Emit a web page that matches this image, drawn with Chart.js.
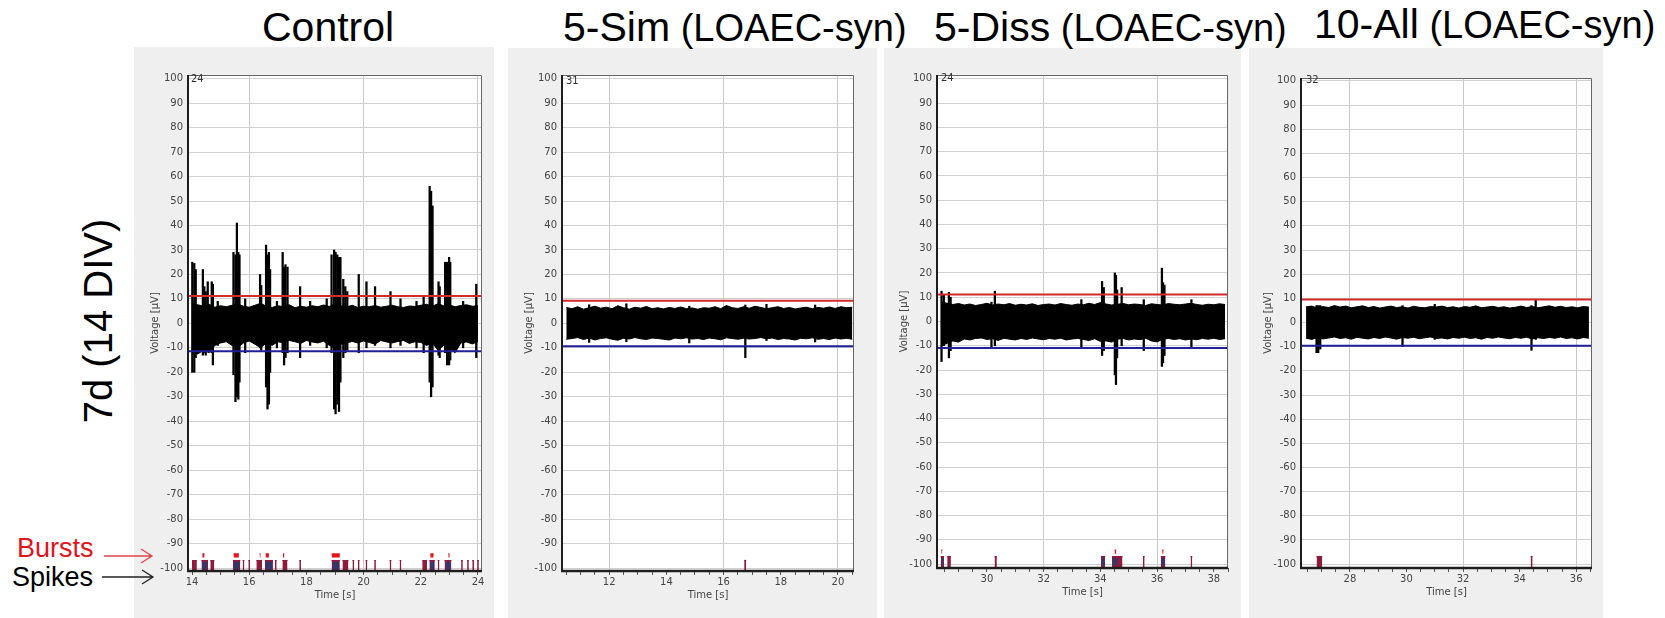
<!DOCTYPE html>
<html><head><meta charset="utf-8">
<script src="https://cdn.jsdelivr.net/npm/chart.js"></script>
<style>
html,body{margin:0;padding:0}
body{width:1665px;height:618px;background:#fff;position:relative;overflow:hidden;font-family:"Liberation Sans",Arial,sans-serif}
.panel{position:absolute;background:#efefef}
canvas{position:absolute}
.title{position:absolute;white-space:nowrap;color:#000;line-height:1}
.chan{position:absolute;font:10px "DejaVu Sans";line-height:12px;color:#333}
.side{position:absolute;white-space:nowrap;line-height:1}
</style></head><body>
<div class="side" id="rowLabel" style="left:98px;top:321px;font-size:40px;transform:translate(-50%,-50%) rotate(-90deg)">7d (14 DIV)</div>
<div class="side" style="left:17px;top:535px;font-size:27px;color:#e3141c">Bursts</div>
<div class="side" style="left:12px;top:564px;font-size:27px;color:#000">Spikes</div>
<svg style="position:absolute;left:0;top:0" width="200" height="618">
  <path d="M104 556 H152 M141 549 L152 556 L141 563" stroke="#e0454a" stroke-width="1.3" fill="none"/>
  <path d="M102 577 H153 M142 570 L153 577 L142 584" stroke="#222" stroke-width="1.3" fill="none"/>
</svg>
<script>
// ---------------- data ----------------
const panelTitles = ["Control", "5-Sim", "5-Diss", "10-All"];
const panelSuffix = ["", "(LOAEC-syn)", "(LOAEC-syn)", "(LOAEC-syn)"];
const channelIds = ["24", "31", "24", "32"];
const yTickLabels = [100, 90, 80, 70, 60, 50, 40, 30, 20, 10, 0, -10, -20, -30, -40, -50, -60, -70, -80, -90, -100];
const xAxisTitle = "Time [s]";
const yAxisTitle = "Voltage [\u00b5V]";
const bandStep = 0.2;

// Control
const ctrlBandStart = 14.0;
const ctrlUpper = [8.0,7.6,7.0,7.8,6.6,7.2,6.8,7.4,7.9,7.0, 6.6,7.4,8.2,7.0,6.5,7.2,6.8,7.6,6.4,7.0, 6.6,7.2,6.8,7.5,6.9,8.0,7.2,6.7,7.4,6.5, 7.0,6.8,7.3,6.6,7.0,7.4,6.8,6.5,7.1,6.9, 7.4,7.8,7.0,8.0,7.2,7.5,6.8,7.3,7.6,7.0, 7.2];
const ctrlLower = [-12.0,-12.5,-11.0,-12.0,-9.0,-8.0,-7.5,-9.0,-10.0,-8.0, -7.2,-8.5,-10.0,-8.0,-9.0,-7.5,-8.0,-7.0,-7.5,-8.2, -7.0,-7.6,-8.0,-7.3,-9.0,-10.0,-8.5,-8.0,-7.4,-8.0, -7.2,-7.8,-8.5,-7.0,-7.6,-8.0,-7.4,-7.0,-8.2,-7.5, -7.8,-9.0,-8.0,-11.0,-9.0,-10.0,-12.0,-8.0,-7.6,-8.4, -7.5];
const ctrlSpikeT = [14.01,14.08,14.13,14.38,14.43,14.48,14.55,14.69,14.73,14.9,15.45,15.52,15.57,15.62,15.66,15.86,16.38,16.42,16.59,16.64,16.69,16.73,16.97,17.17,17.22,17.27,17.34,17.78,18.13,18.71,18.88,18.97,19.02,19.08,19.14,19.19,19.29,19.36,19.43,19.83,20.1,20.4,20.94,21.29,21.85,22.1,22.31,22.36,22.41,22.62,22.66,22.85,22.92,22.99,23.03,23.48,23.94];
const ctrlSpikeHi = [25,24.5,22,22,15,13,17,17,16,9,29,28,41,29,28,10,20,15.5,32,28,29,22,9,29,23,24,23,15,9,10,28,30,29,28,27,27,18,15,13,20,17,15,13,10,9,11,56,54,48,17,15,25,25,27,25,9,16];
const ctrlSpikeLo = [-20,-20,-14,-13,-12,-13,-11,-12,-17,-9,-21,-32,-30,-31,-24,-12,-10,-11,-26,-35,-33,-20,-10,-12,-17,-14,-12,-14,-9,-10,-12,-35,-37,-33,-36,-24,-14,-12,-11,-12,-10,-9,-10,-9,-10,-12,-24,-30,-26,-13,-14,-12,-17,-17,-15,-10,-14];
const ctrlSpikeRaster = [[14.0,14.17],[14.33,14.56],[14.64,14.78],[15.43,15.69],[15.77,15.83],[15.97,16.03],[16.25,16.45],[16.55,16.83],[16.9,16.96],[17.16,17.34],[17.75,17.81],[18.88,19.17],[19.26,19.47],[19.61,19.67],[19.8,19.86],[20.07,20.13],[20.37,20.43],[20.91,20.97],[21.26,21.32],[22.05,22.22],[22.3,22.49],[22.59,22.65],[22.83,23.07],[23.41,23.47],[23.62,23.68],[23.8,23.86],[23.97,24.03]];
const ctrlBurstRaster = [[14.36,14.53],[15.47,15.66],[16.59,16.8],[18.92,19.14],[22.33,22.46],[22.87,23.04]];
const ctrlBurstMarks = [[14.36,14.44],[15.45,15.64],[16.36,16.4],[16.57,16.69],[17.18,17.23],[18.88,19.17],[22.33,22.45],[22.96,23.01]];
const ctrlThreshold = [11.2, -11.4];

// 5-Sim
const simBandStart = 10.5;
const simUpper = [6.5,6.0,6.8,5.8,6.4,7.0,6.2,6.6,6.0,7.2, 6.4,5.8,6.6,6.2,6.9,6.0,6.4,5.9,6.5,6.1, 6.7,6.0,6.3,5.8,6.4,6.2,6.8,6.0,7.3,6.4, 6.1,6.8,6.2,7.0,6.5,6.0,6.4,6.8,6.1,6.5, 5.9,6.3,6.6,6.0,6.5,6.2,6.7,6.1,6.8,6.4, 6.6];
const simLower = [-6.5,-6.2,-5.8,-6.6,-6.0,-6.8,-6.2,-5.9,-6.5,-6.9, -6.1,-6.4,-5.8,-6.3,-6.6,-6.0,-6.2,-6.5,-6.8,-6.0, -6.3,-5.9,-6.4,-6.2,-6.6,-6.0,-6.3,-6.7,-5.9,-6.2, -6.5,-6.1,-6.4,-6.2,-5.8,-6.3,-6.0,-6.6,-6.2,-6.4, -6.8,-6.1,-6.3,-5.9,-6.5,-6.2,-6.6,-6.0,-6.4,-6.1, -6.5];
const simSpikeT = [11.3,12.6,14.8,16.76,17.5,19.2];
const simSpikeHi = [7.6,8,7,7.5,7.8,7.5];
const simSpikeLo = [-7.8,-7.5,-8,-14,-7,-7.6];
const simSpikeRaster = [[16.72,16.79]];
const simBurstRaster = [];
const simBurstMarks = [];
const simThreshold = [9.2, -9.4];

// 5-Diss
const dissBandStart = 28.4;
const dissUpper = [8.0,7.5,7.0,7.4,6.8,7.2,6.6,7.0,7.5,6.8, 7.2,6.9,7.4,6.7,7.1,6.8,7.3,6.6,7.0,7.2, 6.8,7.4,7.0,6.7,7.2,6.9,7.5,7.0,7.8,7.2, 6.8,7.1,7.4,6.9,7.2,7.0,6.6,7.3,7.0,6.8, 7.4,7.1,6.9,7.2,7.5,7.0,6.7,7.1,6.9,7.3, 7.0];
const dissLower = [-10.0,-9.0,-8.0,-8.5,-7.2,-7.6,-7.0,-6.8,-7.4,-7.1, -7.8,-6.9,-7.3,-7.6,-7.0,-7.4,-6.8,-7.2,-7.5,-7.0, -7.3,-6.9,-7.6,-7.2,-7.0,-7.4,-7.8,-7.1,-8.2,-8.0, -8.5,-7.3,-7.0,-7.6,-7.2,-7.5,-6.9,-8.0,-8.4,-7.3, -7.0,-7.4,-7.1,-7.6,-7.2,-7.5,-7.0,-7.3,-6.9,-7.4, -7.1];
const dissSpikeT = [28.40,28.48,28.66,28.72,30.16,30.28,33.33,34.06,34.12,34.51,34.55,34.59,34.75,35.53,36.17,36.21,36.26,37.21];
const dissSpikeHi = [12.5,11,12,10,8,12.5,9,16.5,14,20,19,13,14,9,22,16,15,9];
const dissSpikeLo = [-16.5,-10,-15,-12,-10.5,-10,-10.5,-14,-12,-22,-26,-15,-10,-12,-18.5,-17,-14,-11];
const dissSpikeRaster = [[28.37,28.49],[28.6,28.73],[30.27,30.35],[34.02,34.17],[34.41,34.78],[35.5,35.56],[36.13,36.29],[37.18,37.24]];
const dissBurstRaster = [[28.39,28.47],[34.04,34.15],[34.43,34.6],[36.15,36.27]];
const dissBurstMarks = [[28.39,28.43],[34.5,34.56],[36.18,36.23]];
const dissThreshold = [11.1, -10.9];

// 10-All
const allBandStart = 26.45;
const allUpper = [6.5,6.8,6.0,6.6,6.2,7.0,6.4,6.8,6.1,6.5, 6.9,6.2,6.6,6.0,6.4,6.8,6.2,6.5,6.0,6.7, 6.3,6.1,6.6,6.4,6.8,6.2,6.5,6.0,6.6,6.3, 6.9,6.1,6.4,6.7,6.2,6.5,6.0,6.3,6.8,6.2, 6.6,6.1,6.5,6.9,6.3,6.7,6.2,6.5,6.1,6.6, 6.4];
const allLower = [-6.5,-7.0,-6.2,-6.8,-6.4,-6.0,-6.6,-6.3,-6.9,-6.1, -6.5,-6.8,-6.2,-6.6,-6.0,-6.4,-6.9,-6.2,-6.5,-6.1, -6.7,-6.3,-6.0,-6.6,-6.4,-6.8,-6.2,-6.5,-6.1,-6.6, -6.3,-6.9,-6.2,-6.5,-6.0,-6.4,-6.7,-6.2,-6.5,-6.1, -6.8,-6.3,-6.6,-6.2,-6.5,-6.0,-6.6,-6.3,-6.8,-6.2, -6.5];
const allSpikeT = [26.82,26.88,26.95,29.86,31.0,34.42,34.57];
const allSpikeHi = [7,7,7,7,7.5,7,9.5];
const allSpikeLo = [-12.5,-12.5,-11,-10,-7,-11.5,-7];
const allSpikeRaster = [[26.82,27.02],[34.39,34.46]];
const allBurstRaster = [];
const allBurstMarks = [];
const allThreshold = [9.5, -9.6];

// raster row levels (µV)
const rasterTop = -96.9;
const burstBody = [-100.6, -97.7];
const burstMark = [-95.7, -94.2];

// ---------------- layout ----------------
const panels = [
  {up: ctrlUpper, lo: ctrlLower, start: ctrlBandStart, sT: ctrlSpikeT, sH: ctrlSpikeHi, sL: ctrlSpikeLo, sr: ctrlSpikeRaster, br: ctrlBurstRaster, bm: ctrlBurstMarks, thr: ctrlThreshold,
   xr: [13.86, 24.14], yr: [-101.2, 101.5], box: [134, 47, 494, 618], plot: [188, 69, 482, 571], chan: [191, 73], title: [262, 7]},
  {up: simUpper, lo: simLower, start: simBandStart, sT: simSpikeT, sH: simSpikeHi, sL: simSpikeLo, sr: simSpikeRaster, br: simBurstRaster, bm: simBurstMarks, thr: simThreshold,
   xr: [10.35, 20.56], yr: [-101.2, 101.5], box: [508, 48, 877, 618], plot: [562, 69, 854, 571], chan: [566, 75], title: [563, 7]},
  {up: dissUpper, lo: dissLower, start: dissBandStart, sT: dissSpikeT, sH: dissSpikeHi, sL: dissSpikeLo, sr: dissSpikeRaster, br: dissBurstRaster, bm: dissBurstMarks, thr: dissThreshold,
   xr: [28.24, 38.5], yr: [-101.6, 101.6], box: [884, 48, 1241, 618], plot: [937, 69, 1228, 568], chan: [941, 72], title: [934, 7]},
  {up: allUpper, lo: allLower, start: allBandStart, sT: allSpikeT, sH: allSpikeHi, sL: allSpikeLo, sr: allSpikeRaster, br: allBurstRaster, bm: allBurstMarks, thr: allThreshold,
   xr: [26.27, 36.56], yr: [-101.6, 101.2], box: [1249, 48, 1603, 618], plot: [1301, 72, 1592, 568], chan: [1306, 74], title: [1314, 4]}
];

const areaPlugin = {
  id: 'area',
  beforeDraw(chart) {
    const {ctx, chartArea: a} = chart;
    ctx.save(); ctx.fillStyle = '#fff'; ctx.fillRect(a.left, a.top, a.right - a.left, a.bottom - a.top); ctx.restore();
  }
};
const framePlugin = {
  id: 'frame',
  afterDatasetsDraw(chart) {
    const {ctx, chartArea: a} = chart;
    ctx.save();
    ctx.strokeStyle = '#666'; ctx.lineWidth = 1;
    ctx.beginPath(); ctx.moveTo(a.left, a.top + 0.5); ctx.lineTo(a.right - 0.5, a.top + 0.5); ctx.lineTo(a.right - 0.5, a.bottom); ctx.stroke();
    ctx.strokeStyle = '#1e1e1e'; ctx.lineWidth = 2;
    ctx.beginPath(); ctx.moveTo(a.left, a.top); ctx.lineTo(a.left, a.bottom); ctx.stroke();
    ctx.lineWidth = 2.5;
    ctx.beginPath(); ctx.moveTo(a.left - 1, a.bottom); ctx.lineTo(a.right, a.bottom); ctx.stroke();
    ctx.restore();
  }
};

function blocks(list, top) {
  const pts = [];
  list.forEach(([s, e]) => { pts.push({x: s, y: top}, {x: e, y: top}, {x: e, y: null}); });
  return pts;
}
function lineDs(data, color, extra) {
  return Object.assign({type: 'line', data, borderColor: color, backgroundColor: color, borderWidth: 1, pointRadius: 0, tension: 0, fill: false, spanGaps: false}, extra);
}

panels.forEach((p, k) => {
  const box = document.createElement('div');
  box.className = 'panel';
  Object.assign(box.style, {left: p.box[0] + 'px', top: p.box[1] + 'px', width: (p.box[2] - p.box[0]) + 'px', height: (p.box[3] - p.box[1]) + 'px'});
  document.body.appendChild(box);

  const t = document.createElement('div');
  t.className = 'title';
  Object.assign(t.style, {left: p.title[0] + 'px', top: p.title[1] + 'px', fontSize: '41px'});
  t.textContent = panelTitles[k];
  if (panelSuffix[k]) {
    const s = document.createElement('span');
    s.style.fontSize = '38px';
    s.textContent = ' ' + panelSuffix[k];
    t.appendChild(s);
  }
  document.body.appendChild(t);

  const padR = 12, axW = 40, axH = 40, padT = 5;
  const W = p.plot[2] - p.plot[0] + axW + padR;
  const H = p.plot[3] - p.plot[1] + padT + axH;
  const cv = document.createElement('canvas');
  cv.width = W; cv.height = H;
  Object.assign(cv.style, {left: (p.plot[0] - axW) + 'px', top: (p.plot[1] - padT) + 'px', width: W + 'px', height: H + 'px'});
  document.body.appendChild(cv);

  const bandUp = p.up.map((v, i) => ({x: p.start + i * bandStep, y: v}));
  const bandLo = p.lo.map((v, i) => ({x: p.start + i * bandStep, y: v}));
  const spikes = p.sT.map((tt, i) => ({x: tt, y: [p.sL[i], p.sH[i]]}));
  const xr = p.xr;

  const datasets = [
    lineDs(bandUp, '#000', {fill: '+1', order: 6}),
    lineDs(bandLo, '#000', {order: 6}),
    {type: 'bar', data: spikes, backgroundColor: '#000', borderWidth: 0, barThickness: 1.6, grouped: false, order: 5},
    lineDs(blocks(p.sr, rasterTop), '#8e1a3c', {fill: 'start', order: 3, borderWidth: 1.2}),
    lineDs(blocks(p.br, burstBody[1]), '#2e3a6c', {fill: {value: burstBody[0]}, order: 2}),
    lineDs(blocks(p.bm, burstMark[1]), '#e3141c', {fill: {value: burstMark[0]}, order: 2}),
    lineDs([{x: xr[0], y: p.thr[0]}, {x: xr[1], y: p.thr[0]}], '#d42a2a', {borderWidth: 2, order: 0}),
    lineDs([{x: xr[0], y: p.thr[1]}, {x: xr[1], y: p.thr[1]}], '#1f1f9a', {borderWidth: 2, order: 0})
  ];

  new Chart(cv, {
    type: 'line',
    data: {datasets},
    plugins: [areaPlugin, framePlugin],
    options: {
      responsive: false, animation: false, devicePixelRatio: 1,
      layout: {padding: {left: 0, top: padT, right: padR, bottom: 0}},
      plugins: {legend: {display: false}, tooltip: {enabled: false}},
      scales: {
        x: {
          type: 'linear', min: xr[0], max: xr[1], offset: false,
          afterBuildTicks: s => {
            const ticks = [];
            for (let v = Math.ceil(xr[0] * 2) / 2; v <= xr[1] + 1e-9; v += 0.5) ticks.push({value: Math.round(v * 2) / 2});
            s.ticks = ticks;
          },
          afterFit: s => { s.height = axH; },
          ticks: {autoSkip: false, maxRotation: 0, padding: 1, color: '#444', font: {family: 'DejaVu Sans', size: 10},
                  callback: v => (Math.abs(v % 2) < 1e-9 ? String(v) : '')},
          grid: {offset: false, drawTicks: true, tickLength: 4, tickWidth: 1, tickColor: '#555', lineWidth: 1,
                 color: c => (c.tick && Math.abs(c.tick.value % 4) < 1e-9 ? '#c9c9c9' : 'rgba(0,0,0,0)')},
          border: {display: false},
          title: {display: true, text: xAxisTitle, color: '#444', font: {family: 'DejaVu Sans', size: 10}, padding: {top: 0, bottom: 10}}
        },
        y: {
          type: 'linear', min: p.yr[0], max: p.yr[1],
          afterBuildTicks: s => { s.ticks = yTickLabels.map(v => ({value: v})); },
          afterFit: s => { s.width = axW; },
          ticks: {autoSkip: false, padding: 5, color: '#444', font: {family: 'DejaVu Sans', size: 10}, callback: v => String(v)},
          grid: {drawTicks: false, color: '#d0d0d0', lineWidth: 1},
          border: {display: false},
          title: {display: true, text: yAxisTitle, color: '#444', font: {family: 'DejaVu Sans', size: 10}, padding: {top: 1, bottom: 0}}
        }
      }
    }
  });

  const ch = document.createElement('div');
  ch.className = 'chan';
  Object.assign(ch.style, {left: p.chan[0] + 'px', top: p.chan[1] + 'px'});
  ch.textContent = channelIds[k];
  document.body.appendChild(ch);
});
// keep side labels above the panels
document.querySelectorAll('.side, svg').forEach(e => document.body.appendChild(e));
</script>
</body></html>
